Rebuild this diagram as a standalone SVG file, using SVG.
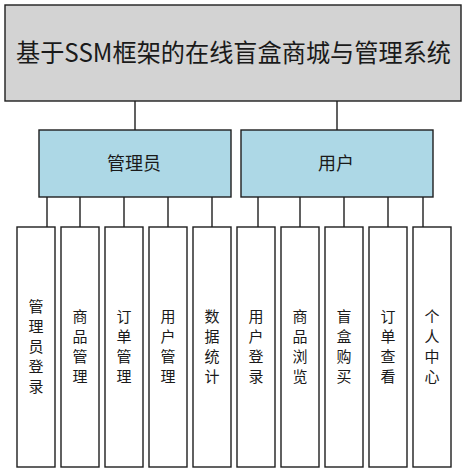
<svg xmlns="http://www.w3.org/2000/svg" width="467" height="473" viewBox="0 0 467 473">
<style>
.box{stroke:#1e1e1e;stroke-width:1.4}
.root{fill:#d3d3d3}
.role{fill:#add8e6}
.leaf{fill:#ffffff}
.t{font-family:"Noto Sans CJK SC","Microsoft YaHei",sans-serif;fill:#1a1a1a;text-anchor:middle}
.conn line{stroke:#1e1e1e;stroke-width:1.4}
</style>
<rect width="467" height="473" fill="#ffffff"/>
<g class="conn">
<line x1="135" y1="101" x2="135" y2="130"/>
<line x1="337" y1="101" x2="337" y2="130"/>
<line x1="47" y1="197" x2="47" y2="227"/>
<line x1="80" y1="197" x2="80" y2="227"/>
<line x1="124" y1="197" x2="124" y2="227"/>
<line x1="168" y1="197" x2="168" y2="227"/>
<line x1="212" y1="197" x2="212" y2="227"/>
<line x1="258" y1="197" x2="258" y2="227"/>
<line x1="300" y1="197" x2="300" y2="227"/>
<line x1="344" y1="197" x2="344" y2="227"/>
<line x1="388" y1="197" x2="388" y2="227"/>
<line x1="423" y1="197" x2="423" y2="227"/>
</g>
<g id="root">
<rect class="box root" x="5" y="5" width="456" height="96"/>
<text class="t" x="233.5" y="62" font-size="25" textLength="435" lengthAdjust="spacingAndGlyphs">基于SSM框架的在线盲盒商城与管理系统</text>
</g>
<g id="admin">
<rect class="box role" x="39" y="130" width="192" height="67"/>
<text class="t" x="134" y="170" font-size="18">管理员</text>
</g>
<g id="user">
<rect class="box role" x="241" y="130" width="192" height="67"/>
<text class="t" x="336" y="170" font-size="18">用户</text>
</g>
<g id="leaf1">
<rect class="box leaf" x="17" y="227" width="38" height="240"/>
<text class="t" font-size="15"><tspan x="36" y="312">管</tspan><tspan x="36" y="332">理</tspan><tspan x="36" y="352">员</tspan><tspan x="36" y="372">登</tspan><tspan x="36" y="392">录</tspan></text>
</g>
<g id="leaf2">
<rect class="box leaf" x="61" y="227" width="38" height="240"/>
<text class="t" font-size="15"><tspan x="80" y="322">商</tspan><tspan x="80" y="342">品</tspan><tspan x="80" y="362">管</tspan><tspan x="80" y="382">理</tspan></text>
</g>
<g id="leaf3">
<rect class="box leaf" x="105" y="227" width="38" height="240"/>
<text class="t" font-size="15"><tspan x="124" y="322">订</tspan><tspan x="124" y="342">单</tspan><tspan x="124" y="362">管</tspan><tspan x="124" y="382">理</tspan></text>
</g>
<g id="leaf4">
<rect class="box leaf" x="149" y="227" width="38" height="240"/>
<text class="t" font-size="15"><tspan x="168" y="322">用</tspan><tspan x="168" y="342">户</tspan><tspan x="168" y="362">管</tspan><tspan x="168" y="382">理</tspan></text>
</g>
<g id="leaf5">
<rect class="box leaf" x="193" y="227" width="38" height="240"/>
<text class="t" font-size="15"><tspan x="212" y="322">数</tspan><tspan x="212" y="342">据</tspan><tspan x="212" y="362">统</tspan><tspan x="212" y="382">计</tspan></text>
</g>
<g id="leaf6">
<rect class="box leaf" x="237" y="227" width="38" height="240"/>
<text class="t" font-size="15"><tspan x="256" y="322">用</tspan><tspan x="256" y="342">户</tspan><tspan x="256" y="362">登</tspan><tspan x="256" y="382">录</tspan></text>
</g>
<g id="leaf7">
<rect class="box leaf" x="281" y="227" width="38" height="240"/>
<text class="t" font-size="15"><tspan x="300" y="322">商</tspan><tspan x="300" y="342">品</tspan><tspan x="300" y="362">浏</tspan><tspan x="300" y="382">览</tspan></text>
</g>
<g id="leaf8">
<rect class="box leaf" x="325" y="227" width="38" height="240"/>
<text class="t" font-size="15"><tspan x="344" y="322">盲</tspan><tspan x="344" y="342">盒</tspan><tspan x="344" y="362">购</tspan><tspan x="344" y="382">买</tspan></text>
</g>
<g id="leaf9">
<rect class="box leaf" x="369" y="227" width="38" height="240"/>
<text class="t" font-size="15"><tspan x="388" y="322">订</tspan><tspan x="388" y="342">单</tspan><tspan x="388" y="362">查</tspan><tspan x="388" y="382">看</tspan></text>
</g>
<g id="leaf10">
<rect class="box leaf" x="413" y="227" width="38" height="240"/>
<text class="t" font-size="15"><tspan x="432" y="322">个</tspan><tspan x="432" y="342">人</tspan><tspan x="432" y="362">中</tspan><tspan x="432" y="382">心</tspan></text>
</g>
</svg>
